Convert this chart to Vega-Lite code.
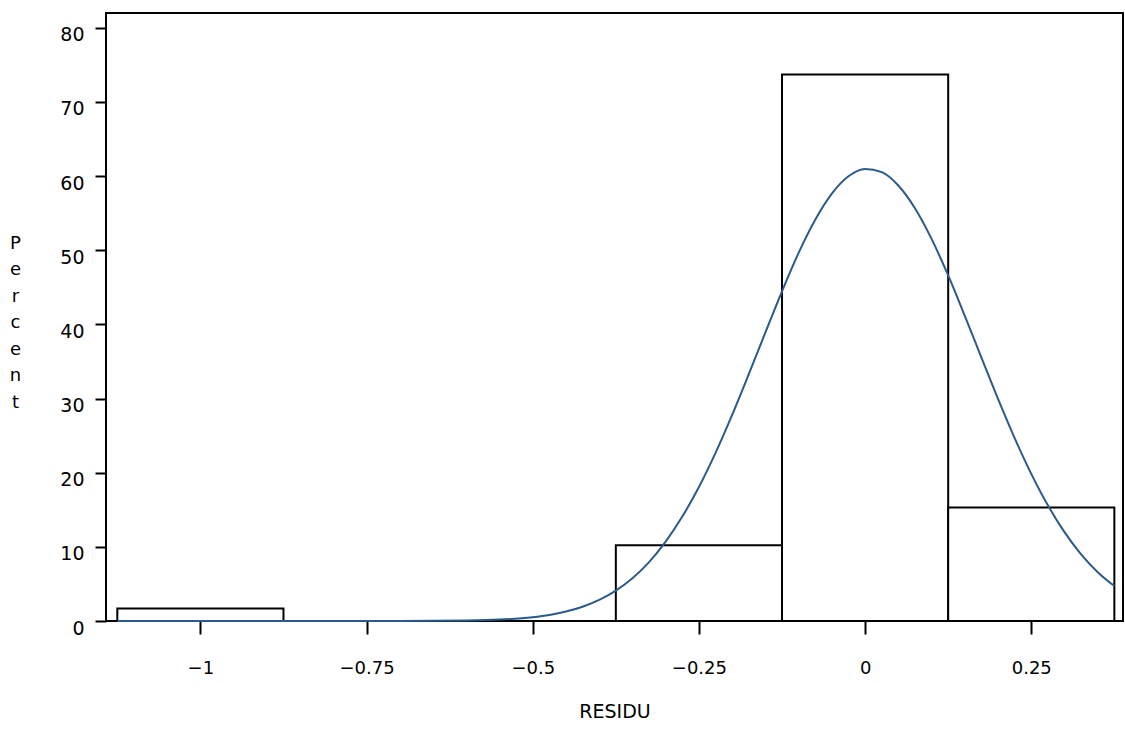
{
  "$schema": "https://vega.github.io/schema/vega-lite/v6.json",
  "autosize": "none",
  "width": 1017,
  "height": 608,
  "padding": {"left": 106, "top": 13, "right": 2, "bottom": 109},
  "background": "white",
  "config": {
    "view": {"stroke": "black", "strokeWidth": 2},
    "font": "DejaVu Sans",
    "axis": {"grid": false, "domain": false, "tickColor": "black", "tickWidth": 2, "labelColor": "black", "titleColor": "black", "labelFont": "DejaVu Sans", "titleFont": "DejaVu Sans", "titleFontWeight": "normal"}
  },
  "datasets": {
    "bars": [
      {"start": -1.125, "end": -0.875, "pct": 1.7},
      {"start": -0.875, "end": -0.625, "pct": 0},
      {"start": -0.625, "end": -0.375, "pct": 0},
      {"start": -0.375, "end": -0.125, "pct": 10.2},
      {"start": -0.125, "end": 0.125, "pct": 73.7},
      {"start": 0.125, "end": 0.375, "pct": 15.3}
    ],
    "curve": [
      {"x": -1.125, "y": 0}, {"x": -0.9, "y": 0}, {"x": -0.7, "y": 0.01}, {"x": -0.6, "y": 0.07},
      {"x": -0.55, "y": 0.19}, {"x": -0.5, "y": 0.52}, {"x": -0.475, "y": 0.82}, {"x": -0.45, "y": 1.27},
      {"x": -0.425, "y": 1.92}, {"x": -0.4, "y": 2.84}, {"x": -0.375, "y": 4.1}, {"x": -0.35, "y": 5.77},
      {"x": -0.325, "y": 7.95}, {"x": -0.3, "y": 10.71}, {"x": -0.275, "y": 14.08}, {"x": -0.25, "y": 18.07},
      {"x": -0.225, "y": 22.68}, {"x": -0.2, "y": 27.8}, {"x": -0.175, "y": 33.28}, {"x": -0.15, "y": 38.92},
      {"x": -0.125, "y": 44.47}, {"x": -0.1, "y": 49.65}, {"x": -0.075, "y": 54.12}, {"x": -0.05, "y": 57.64},
      {"x": -0.025, "y": 59.98}, {"x": 0, "y": 60.97}, {"x": 0.025, "y": 60.54}, {"x": 0.05, "y": 58.73},
      {"x": 0.075, "y": 55.66}, {"x": 0.1, "y": 51.53}, {"x": 0.125, "y": 46.6}, {"x": 0.15, "y": 41.16},
      {"x": 0.175, "y": 35.53}, {"x": 0.2, "y": 29.95}, {"x": 0.225, "y": 24.67}, {"x": 0.25, "y": 19.85},
      {"x": 0.275, "y": 15.6}, {"x": 0.3, "y": 11.98}, {"x": 0.325, "y": 8.99}, {"x": 0.35, "y": 6.58},
      {"x": 0.375, "y": 4.71}
    ]
  },
  "layer": [
    {
      "data": {"name": "bars"},
      "transform": [{"filter": "datum.pct > 0"}],
      "mark": {"type": "rect", "fill": "white", "stroke": "black", "strokeWidth": 2},
      "encoding": {
        "x": {"field": "start", "type": "quantitative",
          "scale": {"domain": [-1.142, 0.388], "nice": false, "zero": false},
          "axis": {"values": [-1, -0.75, -0.5, -0.25, 0, 0.25], "format": "", "tickSize": 13, "labelFontSize": 18, "labelPadding": 25, "title": "RESIDU", "titleFontSize": 19, "titlePadding": 25}},
        "x2": {"field": "end"},
        "y": {"field": "pct", "type": "quantitative",
          "scale": {"domain": [0, 82], "nice": false},
          "axis": {"values": [0, 10, 20, 30, 40, 50, 60, 70, 80], "tickSize": 11, "labelFontSize": 19, "labelPadding": 11, "labelOffset": 7,
            "title": ["P", "e", "r", "c", "e", "n", "t"], "titleAngle": 0, "titleFontSize": 18, "titleLineHeight": 26.5,
            "titleX": -91, "titleY": 221, "titleAlign": "center", "titleBaseline": "top"}},
        "y2": {"datum": 0}
      }
    },
    {
      "data": {"name": "curve"},
      "mark": {"type": "line", "color": "#2b5a8c", "strokeWidth": 2, "interpolate": "monotone"},
      "encoding": {
        "x": {"field": "x", "type": "quantitative"},
        "y": {"field": "y", "type": "quantitative"}
      }
    }
  ]
}
